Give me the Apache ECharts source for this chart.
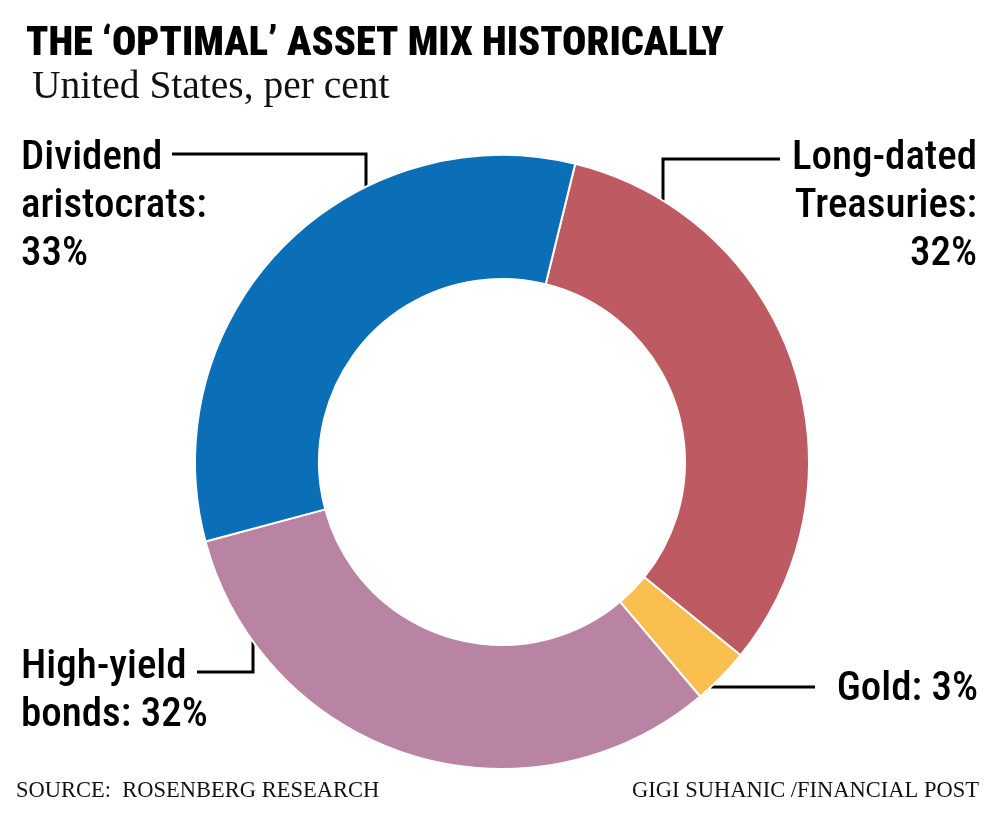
<!DOCTYPE html>
<html>
<head>
<meta charset="utf-8">
<script src="https://cdn.jsdelivr.net/npm/echarts@6/dist/echarts.min.js"></script>
<style>
html,body{margin:0;padding:0;background:#fff;}
#chart{width:1000px;height:819px;}
</style>
</head>
<body>
<div id="chart"></div>
<script>
// ---- data ----
const categories = ['Long-dated Treasuries', 'Gold', 'High-yield bonds', 'Dividend aristocrats'];
const values = [32, 3, 32, 33];
const labelTexts = ['Long-dated\nTreasuries:\n', 'Gold: ', 'High-yield\nbonds: ', 'Dividend\naristocrats:\n'];
const colors = ['#bd5a62', '#fbbf4f', '#b983a4', '#0a6fb7'];

const SANS = '"Roboto Condensed", "Liberation Sans Narrow", Roboto, sans-serif';
const SERIF = '"Liberation Serif", "DejaVu Serif", serif';

// ---- geometry / layout ----
const CX = 502, CY = 462, R_IN = 183, R_OUT = 307;
function circleY(x, top) { const d = Math.sqrt(R_OUT * R_OUT - (x - CX) * (x - CX)); return top ? CY - d : CY + d; }
function circleX(y, right) { const d = Math.sqrt(R_OUT * R_OUT - (y - CY) * (y - CY)); return right ? CX + d : CX - d; }
const labelPlace = [
  { x: 977, y: 135, align: 'right', line: () => [[780, 159], [663, 159], [663, circleY(663, true)]] },
  { x: 978, y: 666, align: 'right', line: () => [[815, 687], [circleX(687, true), 687]] },
  { x: 21, y: 644, align: 'left', line: () => [[197, 672], [253, 672], [253, circleY(253, false)]] },
  { x: 21, y: 135, align: 'left', line: () => [[172, 154], [366, 154], [366, circleY(366, true)]] }
];

const chart = echarts.init(document.getElementById('chart'), null, { renderer: 'canvas' });
chart.setOption({
  backgroundColor: '#fff',
  animation: false,
  title: [
    { text: 'THE ‘OPTIMAL’ ASSET MIX HISTORICALLY', left: 26, top: 25, padding: 0,
      textStyle: { fontFamily: SANS, fontWeight: 900, fontSize: 40.4, color: '#000' } },
    { text: 'United States, per cent', left: 32, top: 68, padding: 0,
      textStyle: { fontFamily: SERIF, fontWeight: 'normal', fontSize: 39.5, color: '#111' } },
    { text: 'SOURCE:  ROSENBERG RESEARCH', left: 16, top: 780, padding: 0,
      textStyle: { fontFamily: SERIF, fontWeight: 'normal', fontSize: 22.5, color: '#111' } },
    { text: 'GIGI SUHANIC /FINANCIAL POST', right: 21, top: 780, padding: 0,
      textStyle: { fontFamily: SERIF, fontWeight: 'normal', fontSize: 22.5, color: '#111' } }
  ],
  series: [{
    type: 'pie',
    center: [CX, CY],
    radius: [R_IN, R_OUT],
    startAngle: 76.2,
    clockwise: true,
    avoidLabelOverlap: false,
    silent: true,
    itemStyle: { borderColor: '#fff', borderWidth: 2 },
    data: categories.map((c, i) => ({ name: c, value: values[i], itemStyle: { color: colors[i] } })),
    label: {
      show: true,
      position: 'outside',
      formatter: p => labelTexts[p.dataIndex] + p.value + '%',
      fontFamily: SANS,
      fontWeight: 500,
      fontSize: 41,
      lineHeight: 48,
      color: '#000'
    },
    labelLine: { show: true, lineStyle: { color: '#000', width: 3 }, smooth: false },
    labelLayout: function (params) {
      const l = labelPlace[params.dataIndex];
      return { x: l.x, y: l.y, align: l.align, verticalAlign: 'top', labelLinePoints: l.line() };
    }
  }]
});
</script>
</body>
</html>
